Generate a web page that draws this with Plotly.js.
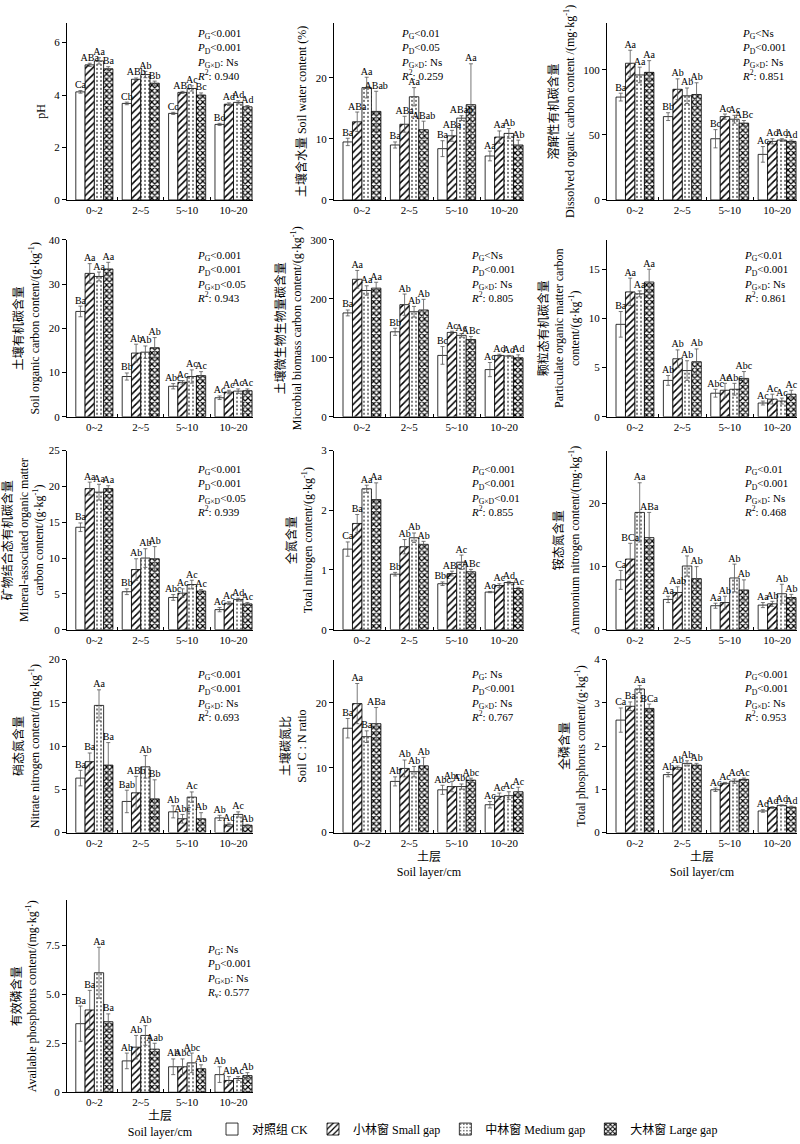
<!DOCTYPE html>
<html>
<head>
<meta charset="utf-8">
<script src="https://cdn.plot.ly/plotly-3.0.1.min.js"></script>
<style>body{margin:0;background:#fff}#graph{width:800px;height:1144px}</style>
</head>
<body>
<div id="graph"></div>
<script>
// categories
let layers = ["0~2", "2~5", "5~10", "10~20"];
let treatments = ["对照组 CK", "小林窗 Small gap", "中林窗 Medium gap", "大林窗 Large gap"];

// each list: rows = CK, small, medium, large gap; columns = soil layers
let phMean = [[4.12, 3.68, 3.30, 2.88], [5.15, 4.60, 4.10, 3.65], [5.30, 4.78, 4.25, 3.72], [5.00, 4.45, 4.00, 3.55]];
let phErr = [[0.05, 0.05, 0.04, 0.04], [0.06, 0.05, 0.04, 0.05], [0.12, 0.12, 0.10, 0.06], [0.08, 0.08, 0.08, 0.05]];
let phLet = [["Ca", "Cb", "Cc", "Bd"], ["ABa", "ABb", "ABc", "Ad"], ["Aa", "Ab", "Ac", "Ad"], ["Ba", "Bb", "Bc", "Ad"]];

let swcMean = [[9.5, 9.0, 8.4, 7.2], [12.8, 12.4, 10.5, 10.3], [18.4, 16.9, 13.4, 10.9], [14.5, 11.5, 15.6, 9.0]];
let swcErr = [[0.6, 0.5, 1.3, 0.8], [1.6, 1.3, 0.9, 1.0], [1.7, 1.5, 0.4, 0.8], [3.3, 1.4, 6.7, 0.8]];
let swcLet = [["Ba", "Ba", "Ba", "Aa"], ["ABa", "ABa", "ABa", "Aa"], ["Aa", "Aa", "ABab", "Ab"], ["ABab", "ABab", "Aa", "Ab"]];

let docMean = [[79, 64, 47, 35], [105, 85, 64, 45], [96, 80, 62, 46], [98, 81, 59, 45]];
let docErr = [[3, 3, 7, 6], [10, 8, 2, 2], [6, 6, 3, 1], [9, 9, 2, 1]];
let docLet = [["Ba", "Bb", "Bc", "Ac"], ["Aa", "Ab", "Ac", "Ad"], ["Aa", "Ab", "Ac", "Ad"], ["Aa", "Ab", "ABc", "Ad"]];

let socMean = [[23.8, 9.1, 6.9, 4.3], [32.4, 14.4, 7.8, 5.6], [31.7, 14.6, 9.1, 5.8], [33.4, 15.6, 9.3, 5.9]];
let socErr = [[1.2, 0.8, 0.6, 0.4], [2.2, 2.0, 0.4, 0.4], [1.0, 1.4, 1.5, 0.5], [1.5, 2.3, 0.9, 0.4]];
let socLet = [["Ba", "Bb", "Abc", "Ac"], ["Aa", "Ab", "Ac", "Ac"], ["Aa", "Ab", "Ac", "Ac"], ["Aa", "Ab", "Ac", "Ac"]];

let mbcMean = [[176, 144, 104, 80], [233, 190, 143, 104], [214, 178, 138, 103], [218, 181, 131, 100]];
let mbcErr = [[5, 6, 15, 12], [15, 18, 2, 2], [8, 9, 3, 1], [10, 18, 5, 5]];
let mbcLet = [["Ba", "Bb", "Bc", "Ac"], ["Aa", "Ab", "Ac", "Ad"], ["Aa", "Ab", "Ac", "Ad"], ["Aa", "Ab", "ABc", "Ad"]];

let pocMean = [[9.4, 3.7, 2.4, 1.4], [12.7, 5.9, 2.7, 1.8], [12.5, 4.7, 2.8, 1.6], [13.7, 5.6, 3.9, 2.3]];
let pocErr = [[1.3, 0.5, 0.4, 0.2], [1.4, 0.9, 0.7, 0.5], [0.3, 1.0, 0.6, 0.3], [1.3, 1.3, 0.7, 0.4]];
let pocLet = [["Ba", "Ab", "Abc", "Ac"], ["Aa", "Ab", "Ac", "Ac"], ["Aa", "Ab", "Abc", "Ac"], ["Aa", "Ab", "Abc", "Ac"]];

let maocMean = [[14.3, 5.3, 4.5, 2.8], [19.7, 8.4, 5.1, 3.7], [19.2, 10.0, 6.3, 4.2], [19.7, 9.9, 5.4, 3.6]];
let maocErr = [[0.6, 0.4, 0.4, 0.3], [0.9, 1.5, 0.6, 0.2], [1.1, 1.3, 0.6, 0.2], [0.4, 1.7, 0.2, 0.2]];
let maocLet = [["Ba", "Bb", "Abc", "Ac"], ["Aa", "Ab", "Ac", "Ac"], ["Aa", "Ab", "Ac", "Ad"], ["Aa", "Ab", "Ac", "Ac"]];

let tnMean = [[1.35, 0.93, 0.77, 0.63], [1.78, 1.39, 0.94, 0.74], [2.36, 1.54, 1.13, 0.79], [2.18, 1.43, 0.97, 0.69]];
let tnErr = [[0.12, 0.03, 0.03, 0.01], [0.15, 0.12, 0.04, 0.03], [0.06, 0.08, 0.12, 0.02], [0.28, 0.05, 0.04, 0.02]];
let tnLet = [["Ca", "Bb", "Bbc", "Ac"], ["Ba", "Ab", "ABc", "Ac"], ["Aa", "Ab", "Ac", "Ad"], ["Aa", "Ab", "ABc", "Ac"]];

let nh4Mean = [[7.9, 4.8, 3.8, 3.9], [11.2, 5.9, 4.3, 4.1], [18.6, 10.1, 8.2, 5.7], [14.6, 8.1, 6.3, 5.1]];
let nh4Err = [[1.5, 0.5, 0.4, 0.4], [2.5, 0.9, 1.0, 0.4], [4.7, 1.6, 2.2, 1.5], [4.0, 1.9, 1.6, 0.5]];
let nh4Let = [["Ca", "Aa", "Aa", "Aa"], ["BCa", "Aab", "Ab", "Ab"], ["Aa", "Ab", "Ab", "Ab"], ["ABa", "Ab", "Ab", "Ab"]];

let no3Mean = [[6.3, 3.6, 2.4, 1.7], [8.2, 4.6, 1.6, 0.9], [14.7, 7.6, 4.1, 2.1], [7.8, 3.9, 1.6, 0.85]];
let no3Err = [[0.9, 1.3, 0.7, 0.3], [1.0, 1.9, 0.5, 0.2], [1.8, 1.3, 0.6, 0.3], [2.6, 2.2, 0.7, 0.1]];
let no3Let = [["Ba", "Bab", "Ab", "Ab"], ["Ba", "ABb", "Abc", "Ac"], ["Aa", "Ab", "Ac", "Ac"], ["Ba", "Bb", "Ab", "Ab"]];

let cnMean = [[16.1, 7.9, 6.6, 4.3], [19.9, 9.9, 7.1, 5.6], [14.8, 9.4, 7.1, 5.7], [16.8, 10.3, 8.1, 6.3]];
let cnErr = [[1.5, 0.7, 0.7, 0.5], [3.1, 1.3, 0.8, 0.5], [0.9, 0.8, 0.4, 0.6], [2.5, 1.3, 0.3, 0.7]];
let cnLet = [["Ba", "Ab", "Abc", "Ac"], ["Aa", "Ab", "Abc", "Ac"], ["Ba", "Ab", "Abc", "Ac"], ["ABa", "Ab", "Abc", "Ac"]];

let tpMean = [[2.60, 1.34, 0.99, 0.50], [2.92, 1.50, 1.14, 0.58], [3.32, 1.60, 1.19, 0.63], [2.87, 1.56, 1.23, 0.59]];
let tpErr = [[0.28, 0.05, 0.04, 0.03], [0.10, 0.04, 0.02, 0.02], [0.08, 0.06, 0.05, 0.01], [0.10, 0.04, 0.03, 0.02]];
let tpLet = [["Ca", "Ab", "Ac", "Ad"], ["Ba", "Ab", "Ac", "Ad"], ["Aa", "Ab", "Ac", "Ad"], ["BCa", "Ab", "Ac", "Ad"]];

let apMean = [[3.5, 1.6, 1.3, 0.9], [4.2, 2.3, 1.3, 0.6], [6.1, 2.9, 1.5, 0.7], [3.6, 2.2, 1.2, 0.85]];
let apErr = [[0.9, 0.4, 0.4, 0.4], [1.0, 0.6, 0.4, 0.2], [1.3, 0.5, 0.5, 0.1], [0.4, 0.3, 0.2, 0.15]];
let apLet = [["Ba", "Ab", "Ab", "Ab"], ["Ba", "Ab", "Abc", "Ab"], ["Aa", "Ab", "Abc", "Ac"], ["Ba", "Aab", "Ab", "Ab"]];

let PG = "<i>P</i><sub>G</sub>", PD = "<i>P</i><sub>D</sub>", PGD = "<i>P</i><sub>G×D</sub>", R2 = "<i>R</i><sup>2</sup>";
let stats = (a, b, c, r, rl)=> `${PG}${a}<br>${PD}${b}<br>${PGD}${c}<br>${rl || R2}: ${r}`;

let panels = [
    {mean: phMean, err: phErr, let: phLet, ymax: 6.75, dtick: 2, title: "pH",
     stat: stats("<0.001", "<0.001", ": Ns", "0.940"), sx: 0.69, sy: 0.99},
    {mean: swcMean, err: swcErr, let: swcLet, ymax: 29, dtick: 10, title: "土壤含水量 Soil water content (%)",
     stat: stats("<0.01", "<0.05", ": Ns", "0.259"), sx: 0.34, sy: 0.99},
    {mean: docMean, err: docErr, let: docLet, ymax: 136, dtick: 50, title: "溶解性有机碳含量<br>Dissolved organic carbon content /(mg·kg<sup>-1</sup>)",
     stat: stats("<Ns", "<0.001", ": Ns", "0.851"), sx: 0.70, sy: 0.99},
    {mean: socMean, err: socErr, let: socLet, ymax: 40, dtick: 10, title: "土壤有机碳含量<br>Soil organic carbon content/(g·kg<sup>-1</sup>)",
     stat: stats("<0.001", "<0.001", "<0.05", "0.943"), sx: 0.69, sy: 0.96},
    {mean: mbcMean, err: mbcErr, let: mbcLet, ymax: 300, dtick: 100, title: "土壤微生物生物量碳含量<br>Microbial biomass carbon content/(g·kg<sup>-1</sup>)",
     stat: stats("<Ns", "<0.001", ": Ns", "0.805"), sx: 0.71, sy: 0.96},
    {mean: pocMean, err: pocErr, let: pocLet, ymax: 18, dtick: 5, title: "颗粒态有机碳含量<br>Particulate organic matter carbon<br>content/(g·kg<sup>-1</sup>)",
     stat: stats("<0.01", "<0.001", ": Ns", "0.861"), sx: 0.71, sy: 0.96},
    {mean: maocMean, err: maocErr, let: maocLet, ymax: 25, dtick: 5, title: "矿物结合态有机碳含量<br>Mineral-associated organic matter<br>carbon content/(g·kg<sup>-1</sup>)",
     stat: stats("<0.001", "<0.001", "<0.05", "0.939"), sx: 0.69, sy: 0.94},
    {mean: tnMean, err: tnErr, let: tnLet, ymax: 3, dtick: 1, title: "全氮含量<br>Total nitrogen content/(g·kg<sup>-1</sup>)",
     stat: stats("<0.001", "<0.001", "<0.01", "0.855"), sx: 0.71, sy: 0.94},
    {mean: nh4Mean, err: nh4Err, let: nh4Let, ymax: 28.4, dtick: 10, title: "铵态氮含量<br>Ammonium nitrogen content/(mg·kg<sup>-1</sup>)",
     stat: stats("<0.01", "<0.001", ": Ns", "0.468"), sx: 0.71, sy: 0.94},
    {mean: no3Mean, err: no3Err, let: no3Let, ymax: 20, dtick: 5, title: "硝态氮含量<br>Nitrate nitrogen content/(mg·kg<sup>-1</sup>)",
     stat: stats("<0.001", "<0.001", ": Ns", "0.693"), sx: 0.69, sy: 0.96},
    {mean: cnMean, err: cnErr, let: cnLet, ymax: 26.7, dtick: 10, title: "土壤碳氮比<br>Soil C : N ratio",
     stat: stats(": Ns", "<0.001", ": Ns", "0.767"), sx: 0.71, sy: 0.96},
    {mean: tpMean, err: tpErr, let: tpLet, ymax: 4, dtick: 1, title: "全磷含量<br>Total phosphorus content/(g·kg<sup>-1</sup>)",
     stat: stats("<0.001", "<0.001", ": Ns", "0.953"), sx: 0.71, sy: 0.96},
    {mean: apMean, err: apErr, let: apLet, ymax: 9.8, tickvals: [0, 2.5, 5, 7.5], ticktext: ["0", "2.5", "5.0", "7.5"],
     title: "有效磷含量<br>Available phosphorus content/(mg·kg<sup>-1</sup>)",
     stat: stats(": Ns", "<0.001", ": Ns", "0.577", "<i>R</i><sub>v</sub>"), sx: 0.74, sy: 0.79}
];

// plot areas in pixels
let cols = [[67, 253], [334, 524], [607, 797]];
let rows = [[23, 201], [241, 419], [453, 633], [663, 837], [905, 1098]];
let W = 800, H = 1144;

let font = "Liberation Serif, Times New Roman, Noto Sans CJK SC, serif";
let patterns = [
    {shape: "", bgcolor: "#fff"},
    {shape: "/", fgcolor: "#000", bgcolor: "#fff", size: 5, solidity: 0.3},
    {shape: ".", fgcolor: "#555", bgcolor: "#fff", size: 4, solidity: 0.2},
    {shape: "x", fgcolor: "#000", bgcolor: "#fff", size: 4, solidity: 0.5}
];
let offsets = [-0.3, -0.1, 0.1, 0.3];

let traces = [];
let layout = {
    width: W, height: H,
    margin: {l: 0, r: 0, t: 0, b: 0},
    paper_bgcolor: "#fff", plot_bgcolor: "#fff",
    font: {family: font, size: 11, color: "#000"},
    barmode: "overlay",
    showlegend: true,
    legend: {orientation: "h", x: 0.265, y: 1 - 1135 / H, xanchor: "left", yanchor: "middle",
             font: {family: font, size: 12}, itemwidth: 30, tracegroupgap: 0},
    annotations: []
};

panels.forEach((p, k)=>{
    let n = k + 1;
    let col = cols[k % 3], row = rows[Math.floor(k / 3)];
    let xa = n === 1 ? "x" : "x" + n, ya = n === 1 ? "y" : "y" + n;

    for(let j = 0; j < 4; j++){
        let xs = layers.map((l, i)=> i + offsets[j]);
        traces.push({
            type: "bar", x: xs, y: p.mean[j], width: 0.2,
            xaxis: xa, yaxis: ya,
            name: treatments[j], legendgroup: treatments[j], showlegend: k === 0,
            marker: {color: "#fff", line: {color: "#000", width: 0.8}, pattern: patterns[j]},
            error_y: {type: "data", array: p.err[j], color: "#555", thickness: 0.8, width: 2},
            hoverinfo: "skip"
        });
        traces.push({
            type: "scatter", mode: "text", x: xs,
            y: p.mean[j].map((v, i)=> v + p.err[j][i]),
            text: p.let[j], textposition: "top center",
            textfont: {family: font, size: 10, color: "#000"},
            xaxis: xa, yaxis: ya, showlegend: false, cliponaxis: false, hoverinfo: "skip"
        });
    }

    let xKey = n === 1 ? "xaxis" : "xaxis" + n, yKey = n === 1 ? "yaxis" : "yaxis" + n;
    layout[xKey] = {
        domain: [col[0] / W, col[1] / W], anchor: ya,
        range: [-0.59, 3.42], tickmode: "array", tickvals: [0, 1, 2, 3], ticktext: layers,
        ticks: "", showline: true, linecolor: "#000", linewidth: 1, zeroline: false, showgrid: false,
        tickfont: {family: font, size: 11},
        minor: {tickmode: "array", tickvals: [0.5, 1.5, 2.5], ticks: "inside", ticklen: 3, tickcolor: "#000", showgrid: false},
        fixedrange: true, automargin: false
    };
    if(n >= 11){
        layout[xKey].title = {text: "土层<br>Soil layer/cm", font: {family: font, size: 12}, standoff: 4};
    }
    layout[yKey] = {
        domain: [1 - row[1] / H, 1 - row[0] / H], anchor: xa,
        range: [0, p.ymax], ticks: "outside", ticklen: 4, tickcolor: "#000",
        showline: true, linecolor: "#000", linewidth: 1, zeroline: false, showgrid: false,
        tickfont: {family: font, size: 11},
        title: {text: p.title, font: {family: font, size: 12}, standoff: 6},
        fixedrange: true, automargin: false
    };
    if(p.tickvals){
        layout[yKey].tickmode = "array";
        layout[yKey].tickvals = p.tickvals;
        layout[yKey].ticktext = p.ticktext;
    }else{
        layout[yKey].dtick = p.dtick;
    }

    layout.annotations.push({
        text: p.stat, xref: xa + " domain", yref: ya + " domain",
        x: p.sx, y: p.sy, xanchor: "left", yanchor: "top", align: "left", showarrow: false,
        font: {family: font, size: 11, color: "#000"}
    });
});

Plotly.newPlot("graph", traces, layout, {staticPlot: true});
</script>
</body>
</html>
